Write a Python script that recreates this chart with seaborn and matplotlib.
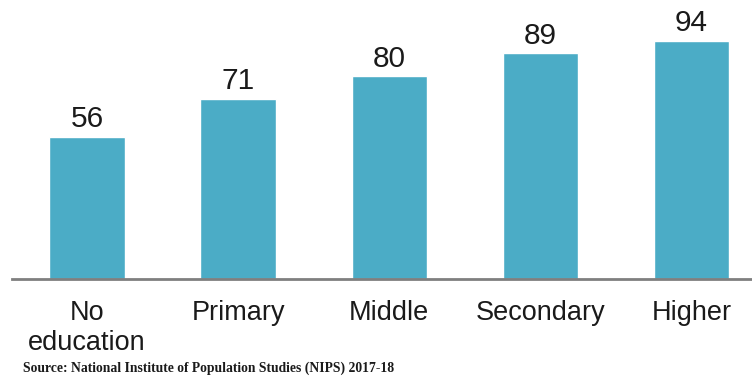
import matplotlib
matplotlib.use("Agg")
import matplotlib.pyplot as plt
import seaborn as sns
import pandas as pd

categories = ["No\neducation", "Primary", "Middle", "Secondary", "Higher"]
values = [56, 71, 80, 89, 94]
source_text = "Source: National Institute of Population Studies (NIPS) 2017-18"

sns.set_theme(style="white")
plt.rcParams['font.family'] = ['Liberation Sans', 'DejaVu Sans']

df = pd.DataFrame({"cat": categories, "val": values})

fig = plt.figure(figsize=(7.52, 3.77), dpi=100)
ax = fig.add_axes([11.5 / 752, 1 - 279 / 377, 1 - 11.5 / 752, 279 / 377])

sns.barplot(data=df, x="cat", y="val", color="#4BACC6", saturation=1,
            width=0.5, ax=ax)

ax.set_xlim(-0.5, 4.4)
ax.set_ylim(0, 110)
for i, v in enumerate(values):
    ax.annotate(str(v), (i, v), xytext=(0, 2.5), textcoords="offset points",
                ha="center", va="bottom", fontsize=21.5, color="#1a1a1a")

ax.set_xlabel("")
ax.set_ylabel("")
ax.set_yticks([])
for s in ["top", "left", "right"]:
    ax.spines[s].set_visible(False)
ax.spines["bottom"].set_color("#7f7f7f")
ax.spines["bottom"].set_linewidth(2)
ax.tick_params(axis="x", length=0, pad=15, labelsize=19.5, colors="#1a1a1a")
for lbl in ax.get_xticklabels():
    lbl.set_linespacing(1.2)
    lbl.set_verticalalignment("top")

fig.text(23 / 752, 1 - 368 / 377, source_text, fontsize=9.8, fontweight="bold",
         family=["Liberation Serif", "DejaVu Serif"], color="#1a1a1a",
         ha="left", va="center")

fig.savefig("out.png", dpi=100)
